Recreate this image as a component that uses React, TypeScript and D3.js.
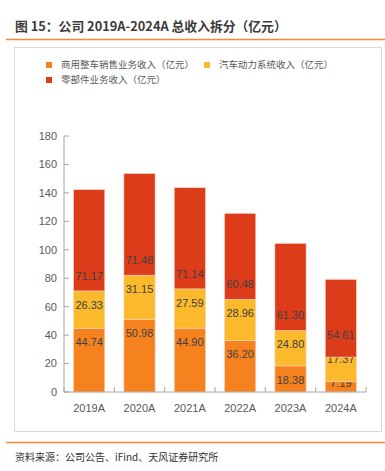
import React from 'react';
import * as d3 from 'd3';

const years = ['2019A', '2020A', '2021A', '2022A', '2023A', '2024A'];
const vehicleSales = [44.74, 50.98, 44.9, 36.2, 18.38, 7.19];
const powertrain = [26.33, 31.15, 27.59, 28.96, 24.8, 17.37];
const parts = [71.17, 71.48, 71.14, 60.48, 61.3, 54.61];
const seriesNames = ['商用整车销售业务收入（亿元）', '汽车动力系统收入（亿元）', '零部件业务收入（亿元）'];
const yTicks = [0, 20, 40, 60, 80, 100, 120, 140, 160, 180];

const colors = ['#F5821F', '#FBBA2B', '#DD3C1B'];
const cjk = '"Noto Sans CJK SC", "Noto Sans", sans-serif';
const latin = '"Liberation Sans", Arial, sans-serif';

export default function App() {
  const left = 64, right = 366, top = 136, bottom = 392;

  const x = d3.scaleBand().domain(years).range([left, right]).paddingInner(0.38).paddingOuter(0.19);
  const y = d3.scaleLinear().domain([0, 180]).range([bottom, top]);

  const table = years.map((yr, i) => ({ year: yr, s0: vehicleSales[i], s1: powertrain[i], s2: parts[i] }));
  const stacked = d3.stack<any>().keys(['s0', 's1', 's2'])(table);

  // label placement: first two series just under the segment top, last one just above its base,
  // pushed up when it would collide with the label underneath
  const labelPos = years.map((_, i) => {
    const out: number[] = [];
    stacked.forEach((layer, k) => {
      const d: any = layer[i];
      const y0 = y(d[0]), y1 = y(d[1]);
      let ly = k < 2 ? Math.min(y1 + 14, y0 - 9) : y0 - 15;
      if (k > 0) ly = Math.min(ly, out[k - 1] - 24);
      out.push(ly);
    });
    return out;
  });

  const step = x.step();
  const boundaries = d3.range(years.length + 1).map(i => left + i * step);

  return (
    <svg width={385} height={471} style={{ position: 'absolute', left: 0, top: 0, background: '#fff' }}>
      <text x={15} y={30.5} fontFamily={cjk} fontSize={12.8} fontWeight="bold" fill="#3a3a3a">
        图 15：公司 2019A-2024A 总收入拆分（亿元）
      </text>
      <line x1={6} x2={385} y1={39.5} y2={39.5} stroke="#F08A3C" strokeWidth={1.5} />

      <rect x={14.5} y={47.5} width={367} height={384} fill="none" stroke="#D9D9D9" />

      {/* legend */}
      {seriesNames.map((name, i) => {
        const lx = i === 1 ? 204 : 46;
        const ly = i === 2 ? 80 : 65;
        return (
          <g key={name}>
            <rect x={lx} y={ly - 3} width={6} height={6} fill={colors[i]} />
            <text x={lx + 15} y={ly} dy="0.35em" fontFamily={cjk} fontSize={9.5} fill="#595959">{name}</text>
          </g>
        );
      })}

      {/* bars */}
      {stacked.map((layer, k) => (
        <g key={layer.key}>
          {layer.map((d: any) => (
            <rect key={d.data.year} x={x(d.data.year)} y={y(d[1])} width={x.bandwidth()}
              height={y(d[0]) - y(d[1])} fill={colors[k]} stroke="#FBD3C2" strokeWidth={0.6} />
          ))}
          {layer.map((d: any, i: number) => (
            <text key={'l' + d.data.year} x={(x(d.data.year) as number) + x.bandwidth() / 2} y={labelPos[i][k]}
              dy="0.35em" textAnchor="middle" fontFamily={latin} fontSize={11} fill="#404040">
              {(d[1] - d[0]).toFixed(2)}
            </text>
          ))}
        </g>
      ))}

      {/* y axis */}
      <line x1={left} x2={left} y1={top} y2={bottom} stroke="#A6A6A6" />
      {yTicks.map(t => (
        <g key={t}>
          <line x1={left} x2={left + 5} y1={y(t)} y2={y(t)} stroke="#A6A6A6" />
          <text x={left - 7} y={y(t)} dy="0.35em" textAnchor="end" fontFamily={latin} fontSize={11} fill="#595959">{t}</text>
        </g>
      ))}

      {/* x axis */}
      <line x1={left} x2={right} y1={bottom} y2={bottom} stroke="#A6A6A6" />
      {boundaries.map((b, i) => (
        <line key={i} x1={b} x2={b} y1={bottom - 5} y2={bottom} stroke="#A6A6A6" />
      ))}
      {years.map(yr => (
        <text key={yr} x={(x(yr) as number) + x.bandwidth() / 2} y={408} dy="0.35em" textAnchor="middle"
          fontFamily={latin} fontSize={11} fill="#595959">{yr}</text>
      ))}

      <line x1={6} x2={385} y1={442.5} y2={442.5} stroke="#F08A3C" strokeWidth={1.5} />
      <text x={15} y={457} dy="0.35em" fontFamily={cjk} fontSize={10} fill="#333">
        资料来源：公司公告、iFind、天风证券研究所
      </text>
    </svg>
  );
}
